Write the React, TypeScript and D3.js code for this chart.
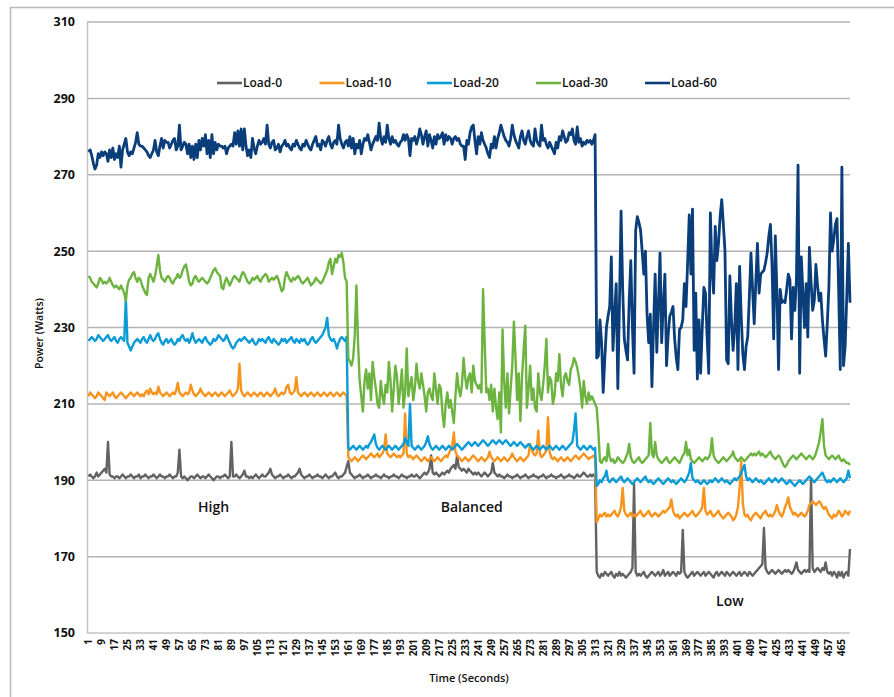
import React from "react";
import * as d3 from "d3";

// Power draw per second for each load level, split by power profile (High / Balanced / Low)
const load0High = [
  191, 191.5, 191, 190.5, 191, 192, 191, 191.5, 192, 192.5,
  193, 192, 200, 191.5, 191, 191, 190.5, 191, 191, 190.5,
  191, 191.5, 191, 190.5, 191, 191, 191.5, 191, 190.5, 191,
  191, 191.5, 190.5, 191, 191, 191.5, 191, 190.5, 191, 191,
  191.5, 191, 190.5, 191, 191.5, 191, 191, 190.5, 191, 191,
  191.5, 191, 190.5, 191, 191, 192, 198, 191, 190.5, 191,
  190.5, 190, 190.5, 191, 191, 190.5, 191, 191.5, 191, 190.5,
  191, 191, 190.5, 191, 191.5, 191, 190.5, 190, 190.5, 191,
  191, 190.5, 191, 191, 191.5, 191, 190.5, 191, 200, 191,
  191, 191.5, 191, 190.5, 191, 191.5, 192.5, 191, 191, 190.5,
  191, 190.5, 191, 191.5, 191, 190.5, 191, 191.5, 191, 191,
  191.5, 192, 193, 191.5, 191, 190.5, 191, 191, 191.5, 191,
  190.5, 191, 191, 191.5, 191, 190.5, 191, 191, 191.5, 192,
  193, 191.5, 191, 190.5, 191, 191, 191.5, 191, 190.5, 191,
  191, 191.5, 191, 191, 190.5, 191, 191.5, 191, 190.5, 191,
  191, 191.5, 192, 191, 190.5, 191, 191, 191.5, 192, 193.5,
];
const load0Balanced = [
  195, 192, 191.5, 191, 190.5, 191, 191, 191.5, 191, 190.5,
  191, 191, 191.5, 191, 190.5, 191, 191, 191.5, 191, 191,
  190.5, 191, 191.5, 191, 191, 190.5, 191, 191, 191.5, 191,
  191, 190.5, 191, 191.5, 191, 191, 190.5, 191, 191, 191.5,
  191, 191, 191.5, 191, 190.5, 191, 191.5, 192, 191.5, 192,
  193, 196.5, 192, 191.5, 192, 191.5, 191, 191.5, 192, 191.5,
  192, 192.5, 192, 193, 193.5, 194, 193, 196.5, 193.5, 193,
  192.5, 193, 192.5, 192, 193, 192.5, 192, 191.5, 192, 191.5,
  192, 191.5, 191, 191.5, 192, 191.5, 191, 191.5, 192, 194.5,
  192, 191.5, 191, 191.5, 191, 191, 190.5, 191, 191.5, 191,
  191, 190.5, 191, 191, 191.5, 191, 190.5, 191, 191, 191.5,
  191, 190.5, 191, 191, 191.5, 191, 191, 190.5, 191, 191,
  191.5, 191, 190.5, 191, 191, 191.5, 191, 191, 190.5, 191,
  191, 191.5, 191, 190.5, 191, 191, 191.5, 191, 191, 190.5,
  191, 191.5, 191, 191, 191.5, 192, 191.5, 191, 191, 191.5,
  191, 191.5, 191,
];
const load0Low = [
  166, 165, 164.5, 165.5, 165, 166, 165.5,
  165, 165.5, 166, 165, 164.5, 165.5, 165, 166, 165, 165.5,
  165, 164.5, 165, 165.5, 166, 167, 189, 166, 165, 165.5,
  165, 165.5, 166, 165, 164.5, 165, 165.5, 166, 165.5, 165,
  165.5, 166, 165, 165.5, 166.5, 165, 165.5, 166, 165, 165.5,
  166, 165.5, 165, 166, 165.5, 166, 177, 166, 165, 164.5,
  165, 165.5, 166, 165, 165.5, 166, 165.5, 165, 165.5, 166,
  165, 165.5, 166, 165.5, 165, 164.5, 165.5, 166, 165, 165.5,
  166, 165.5, 165, 166, 165.5, 165, 165.5, 166, 165.5, 165,
  165.5, 166, 165, 165.5, 166, 165.5, 165, 166, 165.5, 165,
  165.5, 166, 166.5, 167, 167.5, 168, 177.5, 167, 166, 165.5,
  166, 166.5, 166, 165.5, 166, 166.5, 166, 165.5, 166, 166.5,
  166, 166.5, 166, 165.5, 166, 167, 168.5, 166.5, 166, 165.5,
  166, 166.5, 166, 166.5, 166, 190.5, 167, 166, 166.5, 167,
  166.5, 166, 167, 166.5, 168.5, 166, 165.5, 166, 165, 166,
  165.5, 164.5, 166, 165, 166, 164.5, 165.5, 166, 165, 172,
];

const load10High = [
  212, 213, 212.5, 212, 211.5, 212, 213, 212.5, 212, 211.5,
  211, 213, 212.5, 212, 212.5, 213, 212, 211.5, 212, 212.5,
  213, 212.5, 212, 211.5, 212, 212.5, 213, 212.5, 212, 212.5,
  213, 212.5, 212, 212.5, 212, 213, 213.5, 212.5, 214, 213,
  212.5, 213, 212.5, 214.5, 213, 212.5, 212, 212.5, 213, 212.5,
  212, 212.5, 213, 212.5, 213.5, 215.5, 213, 212.5, 212, 212.5,
  213, 212.5, 213, 215, 213.5, 212.5, 212, 212.5, 213, 214,
  213, 212.5, 212, 212.5, 213, 212.5, 212, 212.5, 213, 212.5,
  212, 212.5, 213, 212.5, 212, 212.5, 213, 213.5, 212.5, 212,
  212.5, 213, 214, 220.5, 213.5, 212.5, 212, 212.5, 213, 212.5,
  212, 212.5, 213, 212.5, 212, 212.5, 213, 212.5, 212, 212.5,
  213, 212.5, 212, 212.5, 213, 214, 212.5, 212, 212.5, 213,
  212.5, 213, 214.5, 215, 213, 212.5, 213, 213.5, 217, 213,
  212.5, 212, 212.5, 213, 212.5, 212, 212.5, 213, 212.5, 212,
  212.5, 213, 212.5, 212, 212.5, 213, 212.5, 212, 212.5, 213,
  212.5, 212, 212.5, 213, 212.5, 212, 212.5, 213, 212.5, 212,
];
const load10Balanced = [
  196, 195.5, 195, 195.5, 196, 195.5, 195, 195.5, 196, 196.5,
  196, 195.5, 196, 196.5, 197, 196.5, 196, 196.5, 197, 196,
  196.5, 197, 198, 202, 197, 196.5, 196, 196.5, 197, 196.5,
  196, 196.5, 196, 196.5, 197, 207.5, 197, 196, 196.5, 196,
  195.5, 196, 196.5, 196, 195.5, 195, 195.5, 196, 195.5, 195,
  195.5, 196, 195.5, 195, 195.5, 196, 195.5, 195, 195.5, 196,
  196.5, 196, 197, 198, 199, 202.5, 197.5, 196.5, 196, 195.5,
  195, 195.5, 196, 195.5, 195, 195.5, 196, 196.5, 196, 195.5,
  195, 195.5, 196, 195.5, 195, 195.5, 196, 197.5, 196, 195.5,
  195, 195.5, 196, 195.5, 195, 195.5, 196, 195.5, 195, 195.5,
  196, 197, 196, 195.5, 195, 195.5, 196, 195.5, 195, 195.5,
  196, 196.5, 199.5, 198, 197, 196.5, 197, 203, 197, 196,
  196.5, 197, 198, 206.5, 197.5, 196, 195.5, 196, 195.5, 195,
  195.5, 196, 195.5, 195, 195.5, 196, 195.5, 195, 195.5, 196,
  196.5, 196, 195.5, 196, 196.5, 197, 196.5, 196, 195.5, 196,
  196, 196.5, 196,
];
const load10Low = [
  179, 180, 181, 180.5, 181, 181.5, 180.5,
  181, 180.5, 181, 181.5, 182, 181, 180.5, 181.5, 183, 188,
  182, 181, 180.5, 181, 181.5, 180.5, 181, 180.5, 181, 181.5,
  182, 181, 180.5, 181, 181.5, 182, 181, 180.5, 181, 181.5,
  181, 180.5, 181, 181.5, 182, 181.5, 182, 182.5, 183, 185,
  182, 181, 180.5, 181, 180, 180.5, 181, 181.5, 181, 180.5,
  181, 181.5, 182, 181, 180.5, 181, 181.5, 182, 183, 188,
  182, 181, 181.5, 182, 181, 180.5, 181, 181.5, 182, 181,
  180.5, 180, 180.5, 181, 181.5, 181, 180.5, 179.5, 180, 181,
  183, 188, 195, 184, 181, 180.5, 181, 180, 179.5, 180.5,
  181, 181.5, 181, 180.5, 180, 181, 181.5, 182, 181, 180.5,
  181, 180.5, 181, 182, 183.5, 182, 181, 180.5, 181.5, 183,
  184, 185.5, 183, 182, 181, 181.5, 181, 180.5, 181, 181.5,
  181, 180.5, 181, 182, 183.5, 184, 184.5, 184, 183.5, 184,
  184.5, 184, 183, 182.5, 183, 182, 181, 180.5, 180, 181,
  180.5, 181, 182, 181.5, 180.5, 181, 182, 181.5, 181, 182,
];

const load20High = [
  226.5, 227, 227.5, 227, 226.5, 227, 228, 227.5, 227, 226.5,
  227, 227.5, 228, 227, 226.5, 227, 227.5, 226.5, 226, 227,
  227.5, 227, 226.5, 237.5, 226, 225, 224, 225, 226, 226.5,
  227, 226.5, 226, 227, 227.5, 226.5, 226, 227, 228, 227,
  226.5, 227, 228, 228.5, 227, 226, 225.5, 226.5, 227, 226,
  226.5, 227, 226, 225.5, 226, 227, 226.5, 227.5, 228, 227,
  226.5, 227, 226, 227, 228.5, 227, 226, 226.5, 227, 226.5,
  226, 227, 227.5, 226.5, 226, 225.5, 226, 227, 226.5, 227,
  228, 227.5, 227, 226.5, 227, 228, 227, 226, 225, 224.5,
  225, 226, 226.5, 227, 226.5, 227, 227.5, 227, 226.5, 226,
  226.5, 227, 226, 225.5, 226, 227, 226.5, 227, 226.5, 226,
  227, 227.5, 226.5, 226, 227, 226.5, 226, 225.5, 226, 227,
  226.5, 227, 226, 226.5, 227, 227.5, 226.5, 226, 227, 226.5,
  226, 227, 226.5, 227, 226, 225.5, 226, 227, 227.5, 226.5,
  226, 226.5, 227, 227.5, 228, 229, 230, 232.5, 228, 227,
  226.5, 227, 226, 224.5, 226, 227, 227.5, 227, 226.5, 227.5,
];
const load20Balanced = [
  198.5, 198, 198.5, 199, 198.5, 198, 198.5, 199, 198.5, 198,
  198.5, 199, 198.5, 199.5, 200, 201, 202, 199.5, 198.5, 198,
  198.5, 199, 198.5, 198, 198.5, 199, 198.5, 198, 198.5, 199,
  198.5, 198, 198.5, 199, 199.5, 201, 200, 199, 210, 199,
  198.5, 198, 198.5, 199, 198.5, 198, 198.5, 199, 200, 201.5,
  199.5, 198.5, 198, 198.5, 199, 198.5, 198, 198.5, 199, 198.5,
  198, 198.5, 199, 198.5, 198, 198.5, 199, 199.5, 199, 198.5,
  198, 198.5, 199, 199.5, 200, 199.5, 199, 199.5, 200, 199.5,
  199, 199.5, 200, 200.5, 200, 199.5, 199, 199.5, 200, 200.5,
  200, 199.5, 200, 200.5, 200, 199.5, 200, 200.5, 200, 199.5,
  199, 199.5, 200, 199.5, 199, 199.5, 200, 199.5, 199, 198.5,
  199, 199.5, 199, 198.5, 198, 198.5, 199, 198.5, 198, 198.5,
  199, 198.5, 198, 198.5, 199, 198.5, 198, 198.5, 199, 198.5,
  198, 198.5, 199, 198.5, 198, 198.5, 199, 199.5, 200, 203,
  207.5, 199, 198.5, 198, 198.5, 199, 198.5, 198, 198.5, 199,
  198.5, 198, 198.5,
];
const load20Low = [
  188.5, 189, 190, 189.5, 190.5, 191, 192.5,
  190, 189.5, 190, 190.5, 190, 189.5, 190, 190.5, 191, 190,
  189.5, 190, 190.5, 190, 189.5, 189, 189.5, 190, 190.5, 190,
  189.5, 190, 190.5, 191, 190, 189.5, 190, 189.5, 189, 189.5,
  190, 190.5, 190, 189.5, 189, 189.5, 190, 190.5, 190, 189.5,
  190, 189.5, 189, 189.5, 190, 190.5, 190, 189.5, 190, 191,
  192, 194.5, 190.5, 190, 189.5, 190, 189.5, 189, 189.5, 190,
  189.5, 189, 189.5, 190, 189.5, 190, 190.5, 190, 189.5, 190,
  190.5, 190, 189.5, 190, 189.5, 189, 189.5, 190, 190.5, 190,
  190.5, 191, 192, 193, 194, 191, 190, 190.5, 190, 189.5,
  190, 190.5, 190, 189.5, 190, 189.5, 189, 189.5, 190, 190.5,
  190, 189.5, 190, 190.5, 190, 189.5, 190, 190.5, 190, 189.5,
  189, 189.5, 190, 189.5, 189, 188.5, 189, 189.5, 190, 189.5,
  189, 189.5, 190, 190.5, 191, 190.5, 190, 189.5, 190, 190.5,
  191, 191.5, 192, 191, 190, 189.5, 190, 189.5, 190, 190.5,
  190, 189.5, 190, 190.5, 190, 189.5, 190, 190.5, 192.5, 190.5,
];

const load30High = [
  243.5, 243, 242, 241.5, 241, 240.5, 241.5, 243, 242.5, 241.5,
  242, 241.5, 242, 243, 242, 241, 240.5, 241, 240.5, 240,
  241, 240, 239, 237, 241, 242.5, 243, 244, 244.5, 243,
  242, 243, 242.5, 241, 240, 239, 238.5, 243, 244, 243,
  242, 243.5, 246, 249, 245, 243, 242.5, 242, 243, 243.5,
  243, 242, 241.5, 242.5, 243, 244, 243, 243.5, 245, 246,
  246.5, 244.5, 242, 241, 241.5, 243, 243.5, 242.5, 242, 242.5,
  243, 242.5, 242, 241.5, 242, 243, 244, 245, 245.5, 244.5,
  244, 243.5, 240.5, 240, 242, 243, 242, 241, 242, 243,
  243.5, 243, 242.5, 242, 243.5, 244.5, 244, 243, 242, 241.5,
  242, 243, 242.5, 243, 243.5, 242.5, 242, 243, 243.5, 244,
  243.5, 242, 242.5, 243, 242.5, 243, 243.5, 242.5, 241, 239.5,
  240, 243, 244.5, 243.5, 242.5, 242, 243, 242.5, 243, 243.5,
  243, 242, 241.5, 242, 242.5, 243, 242, 241, 241.5, 242,
  243, 242.5, 242, 241.5, 242, 243, 244, 245, 247, 248,
  244, 246, 248, 247, 249, 248.5, 249.5, 247, 243, 242,
];
const load30Balanced = [
  222, 221, 220, 222, 228, 241, 226, 216, 212, 208,
  216, 219, 214, 218, 211, 221, 217, 214, 210, 209,
  216, 212, 210, 215, 213, 221, 216, 208, 214, 220,
  217, 210, 214, 219, 209, 213, 224.5, 212, 215, 217,
  211, 214, 220.5, 216, 214, 218, 215, 212, 208, 213,
  214, 212, 211, 218, 214, 210, 215, 214, 207.5, 204,
  210, 213, 209, 211, 208, 205, 212, 218, 214, 212,
  215, 222, 217, 214, 217, 218, 213, 220, 216, 215,
  214, 215, 213, 240, 226, 213, 214, 211, 215, 208,
  214, 209, 206, 213, 202.5, 229.5, 216, 209, 218, 207.5,
  214, 220, 231.5, 222, 211, 218, 205.5, 217, 224, 230.5,
  209, 214, 220, 211, 214, 209, 208, 218, 213, 211,
  215, 220, 227, 213, 217, 216, 210, 212, 218, 216,
  223, 215, 212, 217, 218, 216, 215, 219, 220, 222,
  221, 219.5, 217, 214, 209, 216, 212, 210, 213, 211,
  212, 211, 210,
];
const load30Low = [
  209, 203, 195, 194.5, 195.5, 196, 195,
  199.5, 196, 195, 195.5, 194.5, 195, 196, 195.5, 195, 194.5,
  195, 196, 197, 199.5, 196, 195, 194.5, 195, 195.5, 196,
  195, 194.5, 195, 195.5, 196, 196.5, 205, 197, 196, 200,
  196.5, 195.5, 195, 194.5, 195, 195.5, 196, 195, 194.5, 195,
  195.5, 196, 195.5, 195, 194.5, 195.5, 196.5, 197, 200, 196.5,
  198, 195.5, 195, 194.5, 195, 195.5, 196, 195.5, 195, 195.5,
  196, 195.5, 196, 197, 201, 196.5, 195.5, 195, 194.5, 195,
  195.5, 196, 195.5, 195, 195.5, 196, 196.5, 197.5, 196, 195.5,
  195, 195.5, 196, 195.5, 195, 195.5, 196, 196.5, 197, 196.5,
  197, 196.5, 197, 197.5, 196.5, 197, 196.5, 196, 196.5, 197,
  197.5, 196.5, 196, 195.5, 196, 196.5, 196, 195, 194, 193.5,
  194, 195, 195.5, 196, 196.5, 196, 195.5, 196, 196.5, 197,
  196.5, 196, 195.5, 196, 196.5, 196, 195.5, 196, 197, 198.5,
  200, 203, 206, 199, 196.5, 196, 195.5, 196, 196.5, 196,
  195.5, 196, 196.5, 195.5, 195, 195.5, 195, 194.5, 194.5, 194,
];

// Load-60 stays near 278 W through High and Balanced, then swings under Low
const load60Steady = [
  276, 276.5, 275, 273, 271.5, 272.5, 275.5, 274.5, 276, 275,
  276, 275.5, 273.5, 276.5, 274.5, 277, 274, 275.5, 274.5, 277.5,
  272, 276.5, 278, 279.5, 276, 275, 276, 275.5, 277, 278.5,
  281, 278, 277.5, 277.5, 277, 276.5, 276, 275, 274.5, 275.5,
  276.5, 279, 276, 275, 277.5, 279.5, 277, 279, 278.5, 278.5,
  277, 278, 279, 279.5, 276.5, 277.5, 283, 276.5, 277.5, 278.5,
  278, 275.5, 278, 274.5, 277.5, 274, 278, 274.5, 279, 276.5,
  279.5, 277.5, 280.5, 275.5, 279, 274.5, 280.5, 275.5, 278.5, 276.5,
  278, 277.5, 277.5, 277, 277.5, 275.5, 277, 277.5, 278, 277.5,
  281, 278, 281.5, 277.5, 282, 276.5, 282, 277.5, 275, 276.5,
  274.5, 279.5, 277, 275.5, 277.5, 279, 278, 278.5, 279.5, 278,
  283, 278, 277, 278.5, 279, 276.5, 277, 278, 276, 277.5,
  278, 279, 277.5, 278, 277, 276.5, 278, 277.5, 279, 278,
  277, 276.5, 278, 277.5, 279, 278, 277, 276.5, 278, 279,
  280, 277.5, 278, 276.5, 279, 278.5, 277.5, 279, 280, 278,
  277, 278.5, 279, 278, 283, 279.5, 278, 277, 278.5, 279,
  277.5, 280, 277, 279.5, 275.5, 278, 277, 279, 275.5, 278,
  279.5, 279, 280.5, 278.5, 276.5, 278, 279, 280, 279, 283.5,
  279.5, 278, 280, 278.5, 283, 279.5, 278, 280, 278.5, 279,
  278, 277.5, 278.5, 279, 280.5, 279, 280.5, 279.5, 275, 279.5,
  279, 280, 278, 279.5, 282, 280.5, 278, 280, 281.5, 277.5,
  280.5, 279, 277, 280, 278, 280.5, 279.5, 280, 281, 278,
  280.5, 279, 280, 279.5, 278, 279.5, 280, 279, 279.5, 278,
  277.5, 277.5, 274, 279, 278, 281, 282.5, 283, 279, 275.5,
  280, 278, 281, 279, 278, 277, 275.5, 274.5, 278, 277,
  280, 277, 279.5, 281, 283, 281.5, 280, 279, 278.5, 277.5,
  279.5, 283, 280.5, 279, 278, 277, 280, 281.5, 279, 278,
  280, 281.5, 279, 278, 277.5, 282, 279, 278, 277.5, 283,
  279, 279.5, 278, 277, 278.5, 277.5, 276.5, 275.5, 278.5, 277,
  280, 279, 281.5, 280, 278.5, 279, 281, 280.5, 282, 279,
  278, 282.5, 278.5, 279.5, 277.5, 278.5, 278, 279, 278.5, 279,
  278, 279, 280.5,
];
const load60Low = [
  222, 222.5, 232, 226, 213, 222, 230,
  233, 235.5, 248.5, 224, 233, 241.5, 214, 236, 260.5, 240,
  227, 224, 221.5, 237, 247.5, 230, 218, 255.5, 259, 257.5,
  255.5, 250, 244, 250, 233.5, 226, 233.5, 214.5, 230, 244,
  223.5, 236, 249.5, 226, 236, 244, 220, 228, 233, 234,
  235.5, 227, 222, 219, 229.5, 230, 232, 241.5, 235.5, 247,
  259.5, 244, 261, 224, 239, 216.5, 232, 218, 230, 240.5,
  239, 227.5, 218, 260, 245, 239, 256.5, 247.5, 252, 259,
  263.5, 257, 250, 221.5, 220.5, 243.5, 232, 224, 230, 241.5,
  219, 246, 233, 223, 219, 225, 227.5, 238, 249.5, 240,
  231, 242, 252, 239, 244, 244.5, 245, 247, 249.5, 254,
  257, 246, 227, 254, 239, 219, 240, 236.5, 237, 236.5,
  240, 244, 242.5, 227, 240.5, 234.5, 242.5, 272.5, 218, 248.5,
  239, 230, 241.5, 227.5, 251, 242, 234.5, 237, 246.5, 241,
  237, 239, 232, 227, 222.5, 231, 240.5, 260, 250, 253,
  257, 258.5, 240, 219, 272, 220, 225, 238, 252, 236.5,
];

const seriesNames = ["Load-0", "Load-10", "Load-20", "Load-30", "Load-60"];
const seriesColors = ["#626262", "#f7941d", "#0b9bd7", "#6cb33f", "#0a3e7b"];
const seriesValues = [
  [...load0High, ...load0Balanced, ...load0Low],
  [...load10High, ...load10Balanced, ...load10Low],
  [...load20High, ...load20Balanced, ...load20Low],
  [...load30High, ...load30Balanced, ...load30Low],
  [...load60Steady, ...load60Low],
];

const yTicks = [150, 170, 190, 210, 230, 250, 270, 290, 310];
const xTickLabels = [
  1, 9, 17, 25, 33, 41, 49, 57, 65, 73, 81, 89, 97, 105, 113, 121, 129, 137, 145, 153,
  161, 169, 177, 185, 193, 201, 209, 217, 225, 233, 241, 249, 257, 265, 273, 281, 289, 297,
  305, 313, 321, 329, 337, 345, 353, 361, 369, 377, 385, 393, 401, 409, 417, 425, 433, 441,
  449, 457, 465,
];
const profileLabels = [
  { text: "High", second: 78, watts: 181.7 },
  { text: "Balanced", second: 237, watts: 181.7 },
  { text: "Low", second: 396, watts: 157.1 },
];

const W = 894;
const H = 697;
const left = 88;
const right = 850;
const top = 22;
const bottom = 633;
const font = "'Open Sans', sans-serif";

export default function App() {
  const n = seriesValues[0].length;
  const x = d3.scaleLinear().domain([1, n]).range([left + 0.5, right]);
  const y = d3.scaleLinear().domain([150, 310]).range([bottom, top]);
  const line = d3
    .line<number>()
    .x((_, i) => x(i + 1))
    .y((d) => y(d));

  return (
    <svg
      width={W}
      height={H}
      style={{ position: "absolute", left: 0, top: 0, background: "#fff" }}
      fontFamily={font}
    >
      {/* outer frame */}
      <path d={`M10.5,${H} V7.5 H${W}`} fill="none" stroke="#b9b9b9" strokeWidth={1.5} />

      {/* grid */}
      {yTicks.map((t) => (
        <line
          key={t}
          x1={left - 1}
          x2={right}
          y1={y(t)}
          y2={y(t)}
          stroke={t === 150 ? "#c4c4c4" : "#b4b4b4"}
          strokeWidth={1.5}
        />
      ))}
      <line x1={left - 0.5} x2={left - 0.5} y1={top} y2={bottom} stroke="#c4c4c4" strokeWidth={1.5} />

      {/* y axis labels */}
      {yTicks.map((t) => (
        <text
          key={t}
          x={75}
          y={y(t)}
          dy="0.35em"
          textAnchor="end"
          fontSize={12.5}
          fontWeight={700}
          fill="#111"
        >
          {t}
        </text>
      ))}
      <text
        transform={`translate(43,${(top + bottom) / 2 + 6}) rotate(-90)`}
        textAnchor="middle"
        fontSize={10.5}
        fontWeight={600}
        fill="#111"
      >
        Power (Watts)
      </text>

      {/* x axis labels */}
      {xTickLabels.map((t) => (
        <text
          key={t}
          transform={`translate(${x(t)},${bottom + 6}) rotate(-90)`}
          dy="0.35em"
          textAnchor="end"
          fontSize={10}
          fontWeight={700}
          fill="#111"
        >
          {t}
        </text>
      ))}
      <text x={469} y={682} textAnchor="middle" fontSize={11} fontWeight={600} fill="#111">
        Time (Seconds)
      </text>

      {/* series */}
      {seriesValues.map((vals, i) => (
        <path
          key={seriesNames[i]}
          d={line(vals) ?? ""}
          fill="none"
          stroke={seriesColors[i]}
          strokeWidth={i === 4 ? 2.8 : 2.4}
          strokeLinejoin="round"
        />
      ))}

      {/* profile annotations */}
      {profileLabels.map((p) => (
        <text
          key={p.text}
          x={x(p.second)}
          y={y(p.watts)}
          textAnchor="middle"
          fontSize={14}
          fontWeight={600}
          fill="#111"
        >
          {p.text}
        </text>
      ))}

      {/* legend */}
      {seriesNames.map((name, i) => {
        const lx = [217, 319.5, 427, 536, 645][i];
        return (
          <g key={name} transform={`translate(${lx},83)`}>
            <line x1={0} x2={25} y1={0} y2={0} stroke={seriesColors[i]} strokeWidth={2.6} />
            <text x={26} y={0} dy="0.35em" fontSize={12} fontWeight={600} fill="#111">
              {name}
            </text>
          </g>
        );
      })}
    </svg>
  );
}
